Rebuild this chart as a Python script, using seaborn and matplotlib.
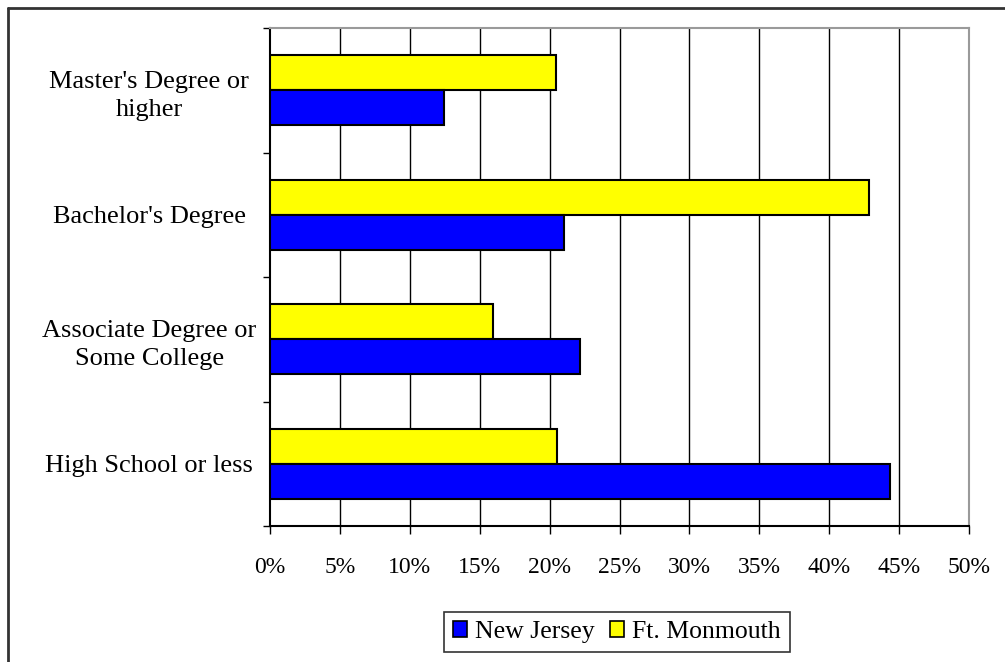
import matplotlib
matplotlib.use("Agg")
import matplotlib.pyplot as plt
from matplotlib.lines import Line2D
from matplotlib.patches import Patch
import seaborn as sns
import pandas as pd

categories = ["Master's Degree or\nhigher", "Bachelor's Degree",
              "Associate Degree or\nSome College", "High School or less"]
new_jersey = [12.45, 21.0, 22.2, 44.35]
ft_monmouth = [20.45, 42.87, 15.95, 20.55]
series_names = ["New Jersey", "Ft. Monmouth"]
x_ticks = [0, 5, 10, 15, 20, 25, 30, 35, 40, 45, 50]
x_tick_labels = [f"{v}%" for v in x_ticks]

sns.set_theme(style="white")
plt.rcParams['font.family'] = ['Liberation Serif', 'DejaVu Serif']

df = pd.DataFrame({
    "Category": categories * 2,
    "Value": new_jersey + ft_monmouth,
    "Series": [series_names[0]] * 4 + [series_names[1]] * 4,
})

colors = {"New Jersey": "#0000FF", "Ft. Monmouth": "#FFFF00"}

fig = plt.figure(figsize=(10.05, 6.62), dpi=100)
ax = fig.add_axes([270/1005, 1-526/662, (969-270)/1005, (526-28)/662])

sns.barplot(data=df, y="Category", x="Value", hue="Series",
            hue_order=["Ft. Monmouth", "New Jersey"], order=categories,
            palette=colors, saturation=1, orient="h", width=0.56, edgecolor="black",
            linewidth=1.5, ax=ax, legend=False, zorder=3)

ax.set_xlim(0, 50)
ax.set_ylim(3.5, -0.5)
ax.set_xticks(x_ticks)
ax.set_xticklabels(x_tick_labels, fontsize=17, color="black")
ax.set_xlabel("")
ax.set_ylabel("")

# category boundaries as major ticks, labels at centers via minor ticks
ax.set_yticks([-0.5, 0.5, 1.5, 2.5, 3.5])
ax.set_yticklabels([])
ax.set_yticks([0, 1, 2, 3], minor=True)
ax.set_yticklabels(categories, minor=True, fontsize=19, ha="center", color="black")
for lbl in ax.get_yticklabels(minor=True):
    lbl.set_linespacing(1.35)
ax.tick_params(axis="y", which="minor", length=0, pad=87)
ax.tick_params(axis="y", which="major", length=5, width=1, color="black", direction="out", left=True)
ax.tick_params(axis="x", which="major", length=6, width=1, color="black", direction="out", bottom=True, pad=16)

ax.grid(False)
for xv in x_ticks[1:-1]:
    ax.axvline(xv, color="black", lw=1, zorder=1)

for side in ["left", "bottom"]:
    ax.spines[side].set_color("black")
    ax.spines[side].set_linewidth(1.5)
for side in ["top", "right"]:
    ax.spines[side].set_visible(True)
    ax.spines[side].set_color("#9a9a9a")
    ax.spines[side].set_linewidth(1.5)

handles = [Patch(facecolor=colors[s], edgecolor="black", linewidth=1.2) for s in series_names]
leg = fig.legend(handles, series_names, loc="center", bbox_to_anchor=(617/1005, 1-632/662),
                 ncol=2, fontsize=18.5, frameon=True, fancybox=False, handlelength=0.55,
                 handleheight=0.55, handletextpad=0.3, columnspacing=0.6, borderpad=0.35,
                 edgecolor="black")
leg.get_frame().set_linewidth(1.2)
for t in leg.get_texts():
    t.set_color("black")

# outer figure frame (left and top visible)
fx = 7.5/1005
fy = 1 - 7.5/662
fig.add_artist(Line2D([fx, 1], [fy, fy], transform=fig.transFigure, color="#333333", lw=2))
fig.add_artist(Line2D([fx, fx], [0, fy], transform=fig.transFigure, color="#333333", lw=2))

fig.savefig("out.png", dpi=100)
